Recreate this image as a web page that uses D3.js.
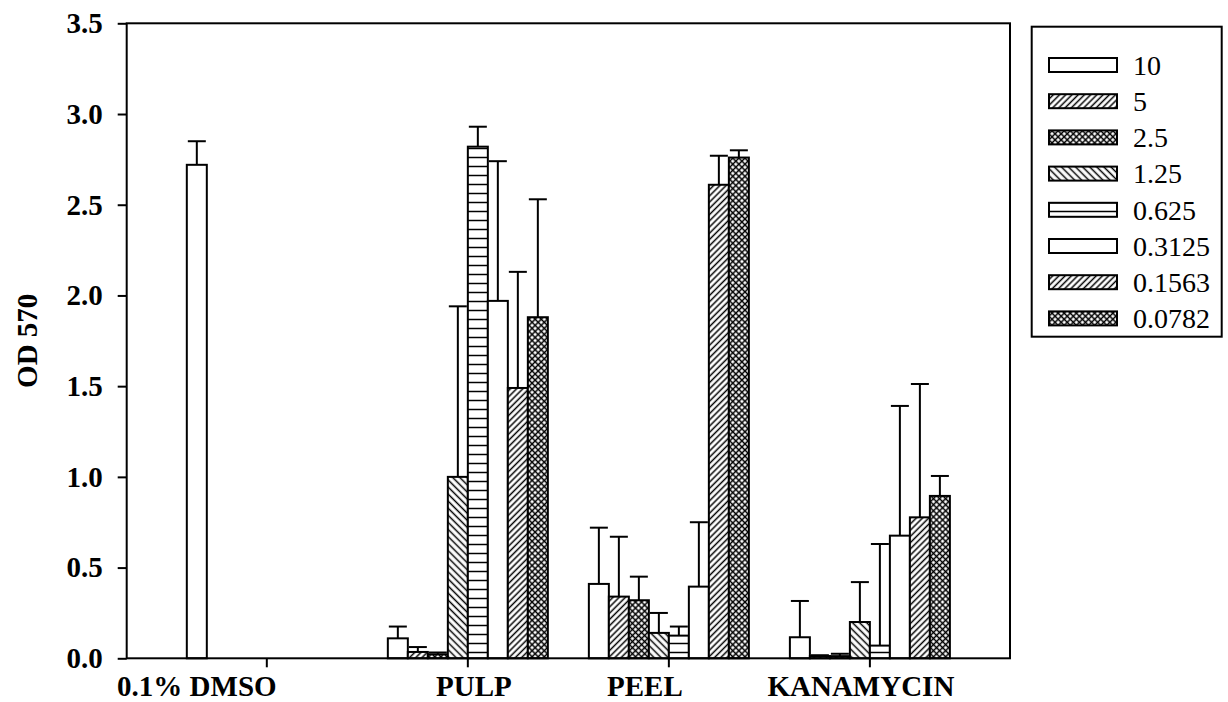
<!DOCTYPE html>
<html>
<head>
<meta charset="utf-8">
<script src="https://cdn.jsdelivr.net/npm/d3@7"></script>
<style>
  body { margin: 0; background: #fff; }
  svg { display: block; font-family: "Liberation Serif", "Times New Roman", serif; }
</style>
</head>
<body>
<div id="viz"></div>
<script>
/*##############################
#   Data   #
###############################*/
var categories = ["0.1% DMSO", "PULP", "PEEL", "KANAMYCIN"];
var series = ["10", "5", "2.5", "1.25", "0.625", "0.3125", "0.1563", "0.0782"];

// mean OD 570 per concentration, one array per group (null = no bar)
var dmsoMean = [2.72, null, null, null, null, null, null, null];
var pulpMean = [0.11, 0.035, 0.022, 1.00, 2.82, 1.97, 1.49, 1.88];
var peelMean = [0.41, 0.34, 0.32, 0.14, 0.125, 0.395, 2.61, 2.76];
var kanaMean = [0.116, 0.012, 0.012, 0.20, 0.07, 0.676, 0.777, 0.895];

// upper error bars (SD)
var dmsoErr = [0.13, null, null, null, null, null, null, null];
var pulpErr = [0.065, 0.027, 0.01, 0.94, 0.11, 0.77, 0.64, 0.65];
var peelErr = [0.31, 0.33, 0.13, 0.11, 0.05, 0.355, 0.16, 0.04];
var kanaErr = [0.2, 0.005, 0.013, 0.22, 0.56, 0.715, 0.735, 0.11];

var yTicks = [0, 0.5, 1.0, 1.5, 2.0, 2.5, 3.0, 3.5];

// fill pattern used by each concentration
var seriesPattern = ["none", "fwd", "cross", "back", "horiz", "none", "fwd", "cross"];

var means = [dmsoMean, pulpMean, peelMean, kanaMean];
var errs = [dmsoErr, pulpErr, peelErr, kanaErr];

/*##############################
#       Draw                   #
###############################*/
var W = 1228, H = 702;
var plot = {left: 126.7, right: 1010, top: 23.3, bottom: 658.3};
// category labels in the original are not quite centred on their ticks
var labelShift = [-70, 6, -24, -9];

var svg = d3.select("#viz").append("svg")
    .attr("width", W)
    .attr("height", H)
    .style("background", "#fff");

// hatch patterns
var defs = svg.append("defs");
function hatch(id, angle, gap) {
    var p = defs.append("pattern")
        .attr("id", id)
        .attr("patternUnits", "userSpaceOnUse")
        .attr("width", gap)
        .attr("height", gap)
        .attr("patternTransform", "rotate(" + angle + ")");
    p.append("rect").attr("width", gap).attr("height", gap).attr("fill", "#fff");
    p.append("line")
        .attr("x1", 0).attr("y1", gap / 2)
        .attr("x2", gap).attr("y2", gap / 2)
        .attr("stroke", "#000").attr("stroke-width", 1.5);
    return p;
}
hatch("fwd", -45, 4.4);
hatch("back", 45, 5);
hatch("horiz", 0, 9);
var cross = hatch("cross", 45, 4.3);
cross.append("line")
    .attr("x1", 4.3 / 2).attr("y1", 0)
    .attr("x2", 4.3 / 2).attr("y2", 4.3)
    .attr("stroke", "#000").attr("stroke-width", 1.5);

function fillFor(i) {
    return seriesPattern[i] == "none" ? "#fff" : "url(#" + seriesPattern[i] + ")";
}

var x0 = d3.scaleBand()
    .domain(categories)
    .range([plot.left, plot.right])
    .paddingInner(0)
    .paddingOuter(0.197);

var x1 = d3.scaleBand()
    .domain(series)
    .range([-80, 80]);

var y = d3.scaleLinear()
    .domain([0, 3.5])
    .range([plot.bottom, plot.top]);

// flatten
var bars = [];
categories.forEach(function(c, ci) {
    series.forEach(function(s, si) {
        if (means[ci][si] != null) {
            bars.push({cat: c, ser: s, si: si, v: means[ci][si], e: errs[ci][si]});
        }
    });
});

// error bars (upper only)
var eb = svg.append("g").attr("stroke", "#000").attr("stroke-width", 2);
bars.forEach(function(d) {
    var cx = x0(d.cat) + x0.bandwidth() / 2 + x1(d.ser) + x1.bandwidth() / 2;
    eb.append("line")
        .attr("x1", cx).attr("x2", cx)
        .attr("y1", y(d.v)).attr("y2", y(d.v + d.e));
    eb.append("line")
        .attr("x1", cx - 9).attr("x2", cx + 9)
        .attr("y1", y(d.v + d.e)).attr("y2", y(d.v + d.e));
});

// bars
svg.append("g")
    .selectAll("rect")
    .data(bars)
    .enter()
    .append("rect")
    .attr("x", function(d) { return x0(d.cat) + x0.bandwidth() / 2 + x1(d.ser); })
    .attr("y", function(d) { return y(d.v); })
    .attr("width", x1.bandwidth())
    .attr("height", function(d) { return y(0) - y(d.v); })
    .attr("fill", function(d) { return fillFor(d.si); })
    .attr("stroke", "#000")
    .attr("stroke-width", 2);

// frame
svg.append("rect")
    .attr("x", plot.left).attr("y", plot.top)
    .attr("width", plot.right - plot.left)
    .attr("height", plot.bottom - plot.top)
    .attr("fill", "none")
    .attr("stroke", "#000")
    .attr("stroke-width", 2);

// Y axis
var yAxis = svg.append("g")
    .attr("transform", "translate(" + plot.left + ",0)")
    .call(d3.axisLeft(y).tickValues(yTicks).tickFormat(d3.format(".1f")).tickSize(9).tickPadding(15));
yAxis.select(".domain").remove();
yAxis.selectAll("line").attr("stroke-width", 2);
yAxis.selectAll("text")
    .attr("font-family", "Liberation Serif")
    .attr("font-size", 29)
    .attr("font-weight", "bold")
    .attr("fill", "#000");

// X axis ticks + labels
var xAxis = svg.append("g")
    .attr("transform", "translate(0," + plot.bottom + ")")
    .call(d3.axisBottom(x0).tickSize(9).tickPadding(0));
xAxis.select(".domain").remove();
xAxis.selectAll("line").attr("stroke-width", 2);
xAxis.selectAll("text")
    .attr("y", 38)
    .attr("dy", null)
    .attr("x", function(d, i) { return labelShift[i]; })
    .attr("font-family", "Liberation Serif")
    .attr("font-size", 29)
    .attr("font-weight", "bold")
    .attr("fill", "#000");

// Y title
svg.append("text")
    .attr("transform", "translate(37," + ((plot.top + plot.bottom) / 2) + ") rotate(-90)")
    .attr("text-anchor", "middle")
    .attr("font-size", 29)
    .attr("font-weight", "bold")
    .text("OD 570");

// Legend
var lg = svg.append("g");
lg.append("rect")
    .attr("x", 1031.7).attr("y", 26.7)
    .attr("width", 190).attr("height", 310)
    .attr("fill", "#fff")
    .attr("stroke", "#000")
    .attr("stroke-width", 2);
series.forEach(function(s, i) {
    var cy = 65 + i * 36.2;
    lg.append("rect")
        .attr("x", 1049).attr("y", cy - 7)
        .attr("width", 68).attr("height", 14)
        .attr("fill", fillFor(i))
        .attr("stroke", "#000")
        .attr("stroke-width", 2);
    lg.append("text")
        .attr("x", 1133).attr("y", cy)
        .attr("dy", "0.35em")
        .attr("font-size", 28)
        .text(s);
});
</script>
</body>
</html>
